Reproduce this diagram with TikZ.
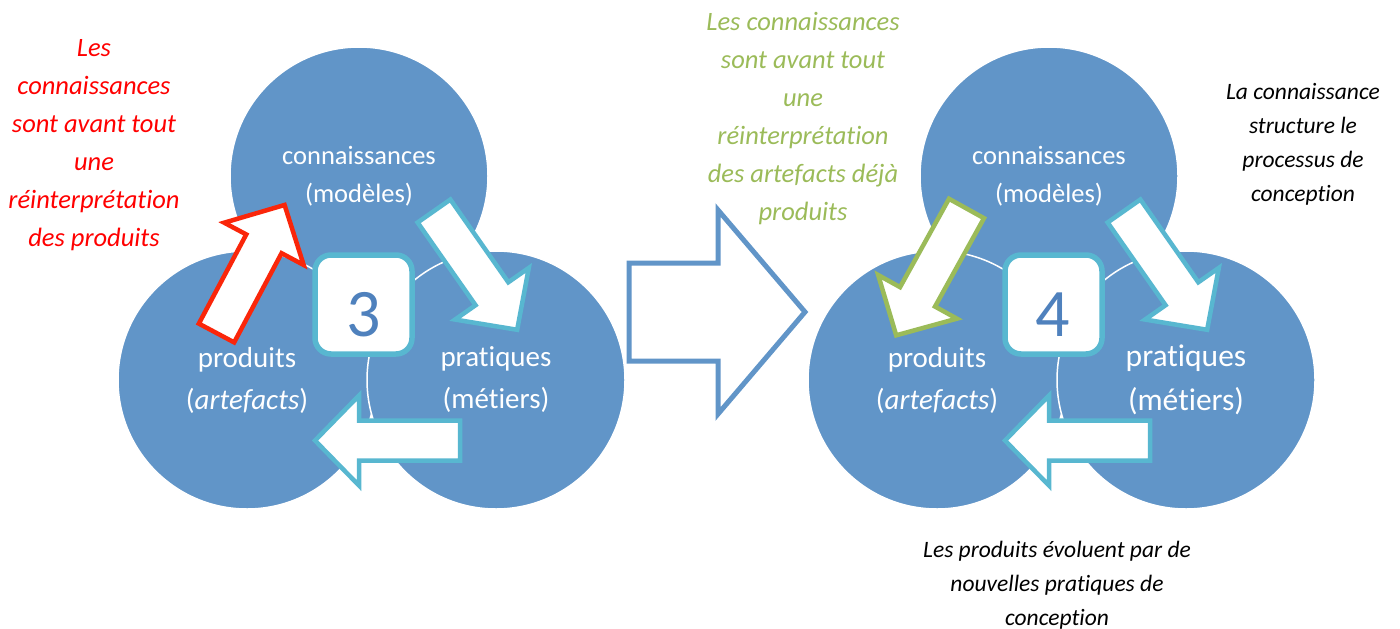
\documentclass[tikz,border=0pt]{standalone}
\usepackage{fontspec}
\setmainfont{Carlito}[Ligatures=NoCommon]

\definecolor{circblue}{RGB}{97,149,200}
\definecolor{boxcyan}{RGB}{88,183,208}
\definecolor{numblue}{RGB}{79,129,189}
\definecolor{arrred}{RGB}{250,38,10}
\definecolor{leafgreen}{RGB}{155,187,89}

\begin{document}
\begin{tikzpicture}[x=1pt, y=-1pt,
  circ/.style={circle, fill=circblue, draw=white, line width=1.5, minimum size=258, inner sep=0},
  lbl/.style={text=white, align=center, font=\fontsize{26.5}{38}\selectfont},
  numbox/.style={draw=boxcyan, fill=white, line width=5.5, rounded corners=16,
    minimum width=97, minimum height=99, inner sep=0},
  numtxt/.style={text=numblue, font=\fontsize{68}{80}\selectfont, inner sep=0},
  note/.style={align=center, inner sep=0, font=\fontsize{26.5}{38}\selectfont\itshape},
  notesm/.style={align=center, inner sep=0, font=\fontsize{23.5}{34}\selectfont\itshape},
  blockarrow/.pic={
    \path[pic actions] (0,-20) -- (101,-20) -- (101,-45) -- (145,0)
      -- (101,45) -- (101,20) -- (0,20) -- cycle;
  }]
  \useasboundingbox (0,0) rectangle (1400,629);

  % cycle 3
  \node[circ] (conn3) at (359,176) {};
  \node[circ] (prod3) at (247,380) {};
  \node[circ] (prat3) at (496,380) {};
  \node[lbl] (lconn3) at (conn3) {connaissances\\(modèles)};
  \node[lbl, font=\fontsize{29}{42}\selectfont] (lprod3) at (prod3) {produits\\(\textit{artefacts})};
  \node[lbl, font=\fontsize{29}{42}\selectfont] (lprat3) at (prat3) {pratiques\\(métiers)};

  \pic[draw=arrred, fill=white, line width=4.5, rotate=62] at (216.5,333) {blockarrow};
  \pic[draw=boxcyan, fill=white, line width=4.5, rotate=-55] at (434,211) {blockarrow};
  \pic[draw=boxcyan, fill=white, line width=4.5, rotate=180] at (460,440.5) {blockarrow};

  \node[numbox] (box3) at (363.5,304.5) {};
  \node[numtxt] (num3) at (363.5,315) {3};

  \node[note, text=red] (notered) at (94,145)
    {Les\\connaissances\\sont avant tout\\une\\réinterprétation\\des produits};

  % passage
  \draw[draw=circblue, fill=white, line width=5] (629,263) -- (718,263) -- (718,210)
    -- (805,312) -- (718,414) -- (718,361) -- (629,361) -- cycle;

  % cycle 4
  \node[circ] (conn4) at (1049,176) {};
  \node[circ] (prod4) at (937,380) {};
  \node[circ] (prat4) at (1186,380) {};
  \node[lbl] (lconn4) at (conn4) {connaissances\\(modèles)};
  \node[lbl, font=\fontsize{29}{42}\selectfont] (lprod4) at (prod4) {produits\\(\textit{artefacts})};
  \node[lbl, font=\fontsize{31.5}{44}\selectfont] (lprat4) at (prat4) {pratiques\\(métiers)};

  \pic[draw=leafgreen, fill=white, line width=4.5, rotate=-119] at (966.5,208.5) {blockarrow};
  \pic[draw=boxcyan, fill=white, line width=4.5, rotate=-55] at (1124,211) {blockarrow};
  \pic[draw=boxcyan, fill=white, line width=4.5, rotate=180] at (1150,440.5) {blockarrow};

  \node[numbox] (box4) at (1053.5,304.5) {};
  \node[numtxt] (num4) at (1053,315) {4};

  \node[note, text=leafgreen] (notegreen) at (803,119)
    {Les connaissances\\sont avant tout\\une\\réinterprétation\\des artefacts déjà\\produits};
  \node[notesm] (notestruct) at (1303,144.2)
    {La connaissance\\structure le\\processus de\\conception};
  \node[notesm] (noteprod) at (1057,585.5)
    {Les produits évoluent par de\\nouvelles pratiques de\\conception};
\end{tikzpicture}
\end{document}
